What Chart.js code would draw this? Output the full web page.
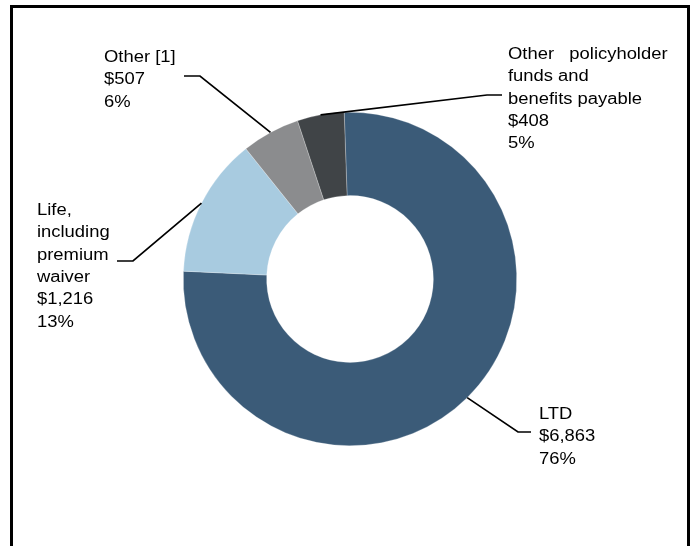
<!DOCTYPE html>
<html>
<head>
<meta charset="utf-8">
<script src="https://cdn.jsdelivr.net/npm/chart.js@4/dist/chart.umd.min.js"></script>
<style>
  html, body { margin: 0; padding: 0; background: #fff; }
  #wrap { position: relative; width: 694px; height: 546px; overflow: hidden; }
  #frame {
    position: absolute; left: 10px; top: 5px; width: 674px; height: 600px;
    border: 3px solid #000; border-bottom: none;
  }
  #chart { position: absolute; left: 0; top: 0; }
</style>
</head>
<body>
<div id="wrap">
  <div id="frame"></div>
  <canvas id="chart" width="694" height="546"></canvas>
</div>
<script>
// reserve types, clockwise from the top
const categories = [
    ['LTD'],
    ['Life,', 'including', 'premium', 'waiver'],
    ['Other [1]'],
    ['Other   policyholder', 'funds and', 'benefits payable']
];

const amounts = [6863, 1216, 507, 408];

const amountLabels = ['$6,863', '$1,216', '$507', '$408'];

const percentLabels = ['76%', '13%', '6%', '5%'];

const sliceColors = ['#3b5b78', '#a8cbe0', '#8b8c8e', '#404447'];

// where each callout text sits and where its leader line bends
const callouts = [
    { textX: 539, textY: 419, elbowX: 518, elbowY: 432, endX: 531 },
    { textX: 37, textY: 215, elbowX: 133, elbowY: 261, endX: 117 },
    { textX: 104, textY: 62, elbowX: 200, elbowY: 76, endX: 184 },
    { textX: 508, textY: 59, elbowX: 487, elbowY: 95, endX: 502 }
];

const calloutPlugin = {
    id: 'callouts',
    afterDatasetsDraw(chart) {
        const ctx = chart.ctx;
        const arcs = chart.getDatasetMeta(0).data;
        ctx.save();
        ctx.font = '16px "Liberation Sans", Arial, sans-serif';
        ctx.fillStyle = '#000';
        ctx.textAlign = 'left';
        ctx.textBaseline = 'alphabetic';
        arcs.forEach((arc, i) => {
            const p = arc.getProps(['x', 'y', 'startAngle', 'endAngle', 'outerRadius'], true);
            const mid = (p.startAngle + p.endAngle) / 2;
            const ax = p.x + Math.cos(mid) * p.outerRadius;
            const ay = p.y + Math.sin(mid) * p.outerRadius;
            const c = callouts[i];

            ctx.beginPath();
            ctx.strokeStyle = '#000';
            ctx.lineWidth = 1.7;
            ctx.moveTo(ax, ay);
            ctx.lineTo(c.elbowX, c.elbowY);
            ctx.lineTo(c.endX, c.elbowY);
            ctx.stroke();

            // the original text is a bit wider than Liberation Sans
            const lines = categories[i].concat([amountLabels[i], percentLabels[i]]);
            lines.forEach((t, k) => {
                ctx.save();
                ctx.translate(c.textX, c.textY + k * 22.3);
                ctx.scale(1.15, 1);
                ctx.fillText(t, 0, 0);
                ctx.restore();
            });
        });
        ctx.restore();
    }
};

new Chart(document.getElementById('chart'), {
    type: 'doughnut',
    data: {
        labels: categories.map(c => c.join(' ')),
        datasets: [
            {
                data: amounts,
                backgroundColor: sliceColors,
                borderColor: 'rgba(255, 255, 255, 0.5)',
                borderWidth: 0.5
            }
        ]
    },
    options: {
        responsive: false,
        animation: false,
        cutout: '50%',
        rotation: -2,
        layout: {
            padding: { top: 112, bottom: 100, left: 183, right: 177 }
        },
        plugins: {
            legend: { display: false },
            tooltip: { enabled: false }
        }
    },
    plugins: [calloutPlugin]
});
</script>
</body>
</html>
